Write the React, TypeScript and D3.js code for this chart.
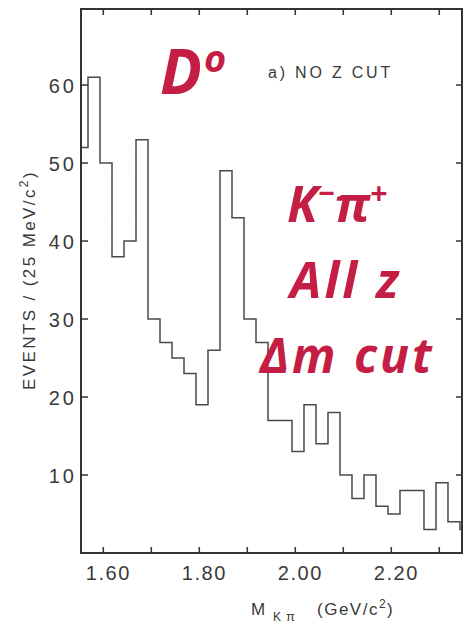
import React from "react";
import * as d3 from "d3";

// Histogram data: D0 -> K- pi+ invariant mass, 25 MeV bins
const binLow = 1.5431; // lower edge of first (clipped) bin, GeV
const binWidth = 0.025;
const counts = [52, 61, 50, 38, 40, 53, 30, 27, 25, 23, 19, 26, 49, 43, 30, 27, 17, 17, 13, 19, 14, 18, 10, 7, 10, 6, 5, 8, 8, 3, 9, 4, 3];

const xTicks = [1.6, 1.7, 1.8, 1.9, 2.0, 2.1, 2.2, 2.3];
const xLabelValues = [1.6, 1.8, 2.0, 2.2];
const xLabelTexts = ["1.60", "1.80", "2.00", "2.20"];
const yTicks = [10, 20, 30, 40, 50, 60];
const xDomain = [1.5535, 2.3473];
const yDomain = [0, 69.75];

const RED = "#C41E44";
const INK = "#3a3a3a";

export default function App() {
  const W = 464, H = 625;
  const left = 81, right = 462, top = 9, bottom = 553;
  const x = d3.scaleLinear().domain(xDomain).range([left, right]);
  const y = d3.scaleLinear().domain(yDomain).range([bottom, top]);

  const pts: [number, number][] = [];
  counts.forEach((c, i) => {
    const a = binLow + i * binWidth;
    pts.push([a, c], [a + binWidth, c]);
  });
  const line = d3.line<[number, number]>().x(d => x(d[0])).y(d => y(d[1]));

  const font = "'Liberation Sans', Arial, sans-serif";
  const hand = "'Open Sans', 'DejaVu Sans', sans-serif";

  return (
    <svg width={W} height={H} style={{ position: "absolute", left: 0, top: 0, background: "#fff" }}>
      <defs>
        <clipPath id="plotclip">
          <rect x={left} y={top} width={right - left} height={bottom - top} />
        </clipPath>
      </defs>
      <rect x={0} y={0} width={W} height={H} fill="#fff" />
      {/* histogram */}
      <path d={line(pts) || ""} fill="none" stroke="#4a4a4a" strokeWidth={1.5} clipPath="url(#plotclip)" />
      {/* frame */}
      <rect x={left} y={top} width={right - left} height={bottom - top} fill="none" stroke="#333" strokeWidth={2} />
      {/* x ticks bottom & top */}
      {xTicks.map(t => (
        <g key={"xt" + t}>
          <line x1={x(t)} x2={x(t)} y1={bottom} y2={bottom - 6} stroke="#333" strokeWidth={1.5} />
          <line x1={x(t)} x2={x(t)} y1={top} y2={top + 6} stroke="#333" strokeWidth={1.5} />
        </g>
      ))}
      {/* y ticks left & right */}
      {yTicks.map(t => (
        <g key={"yt" + t}>
          <line x1={left} x2={left + 7} y1={y(t)} y2={y(t)} stroke="#333" strokeWidth={1.5} />
          <line x1={right} x2={right - 6} y1={y(t)} y2={y(t)} stroke="#333" strokeWidth={1.5} />
        </g>
      ))}
      {/* y labels */}
      {yTicks.map(t => (
        <text key={"yl" + t} x={77} y={y(t) + 8} textAnchor="end" fontFamily={font} fontSize={20} letterSpacing={3} fill={INK}>
          {String(t)}
        </text>
      ))}
      {/* x labels */}
      {xLabelValues.map((v, i) => (
        <text key={"xl" + v} x={x(v) + 5} y={580} textAnchor="middle" fontFamily={font} fontSize={20} letterSpacing={1.5} fill={INK}>
          {xLabelTexts[i]}
        </text>
      ))}
      {/* y title */}
      <text transform="translate(35,390) rotate(-90)" fontFamily={font} fontSize={17} letterSpacing={2.4} fill={INK}>
        EVENTS / (25 MeV/c<tspan dy={-7} fontSize={12}>2</tspan><tspan dy={7}>)</tspan>
      </text>
      {/* x title */}
      <text y={615} fontFamily={font} fontSize={17} fill={INK} letterSpacing={1.5}>
        <tspan x={251}>M</tspan>
        <tspan x={273} dy={6} fontSize={12}>K</tspan>
        <tspan x={286} fontSize={13}>π</tspan>
        <tspan x={317} dy={-6}>(GeV/c</tspan>
        <tspan dy={-7} fontSize={12}>2</tspan>
        <tspan dy={7}>)</tspan>
      </text>
      {/* panel label */}
      <text x={268} y={78} fontFamily={font} fontSize={16} letterSpacing={2.8} fill={INK}>a) NO Z CUT</text>
      {/* red handwritten annotations */}
      <text x={160} y={94} fontFamily={hand} fontWeight={700} fontStyle="italic" fontSize={62} fill={RED}>
        D<tspan dx={2} dy={-22} fontSize={38}>o</tspan>
      </text>
      <text x={287} y={222} fontFamily={hand} fontWeight={700} fontStyle="italic" fontSize={50} fill={RED}>
        K<tspan dy={-18} fontSize={30}>−</tspan><tspan dy={18}>π</tspan><tspan dy={-18} fontSize={30}>+</tspan>
      </text>
      <text x={290} y={298} fontFamily={hand} fontWeight={700} fontStyle="italic" fontSize={50} letterSpacing={3} fill={RED}>
        All z
      </text>
      <text x={260} y={373} fontFamily={hand} fontWeight={700} fontStyle="italic" fontSize={48} letterSpacing={3} fill={RED}>
        Δm cut
      </text>
    </svg>
  );
}
